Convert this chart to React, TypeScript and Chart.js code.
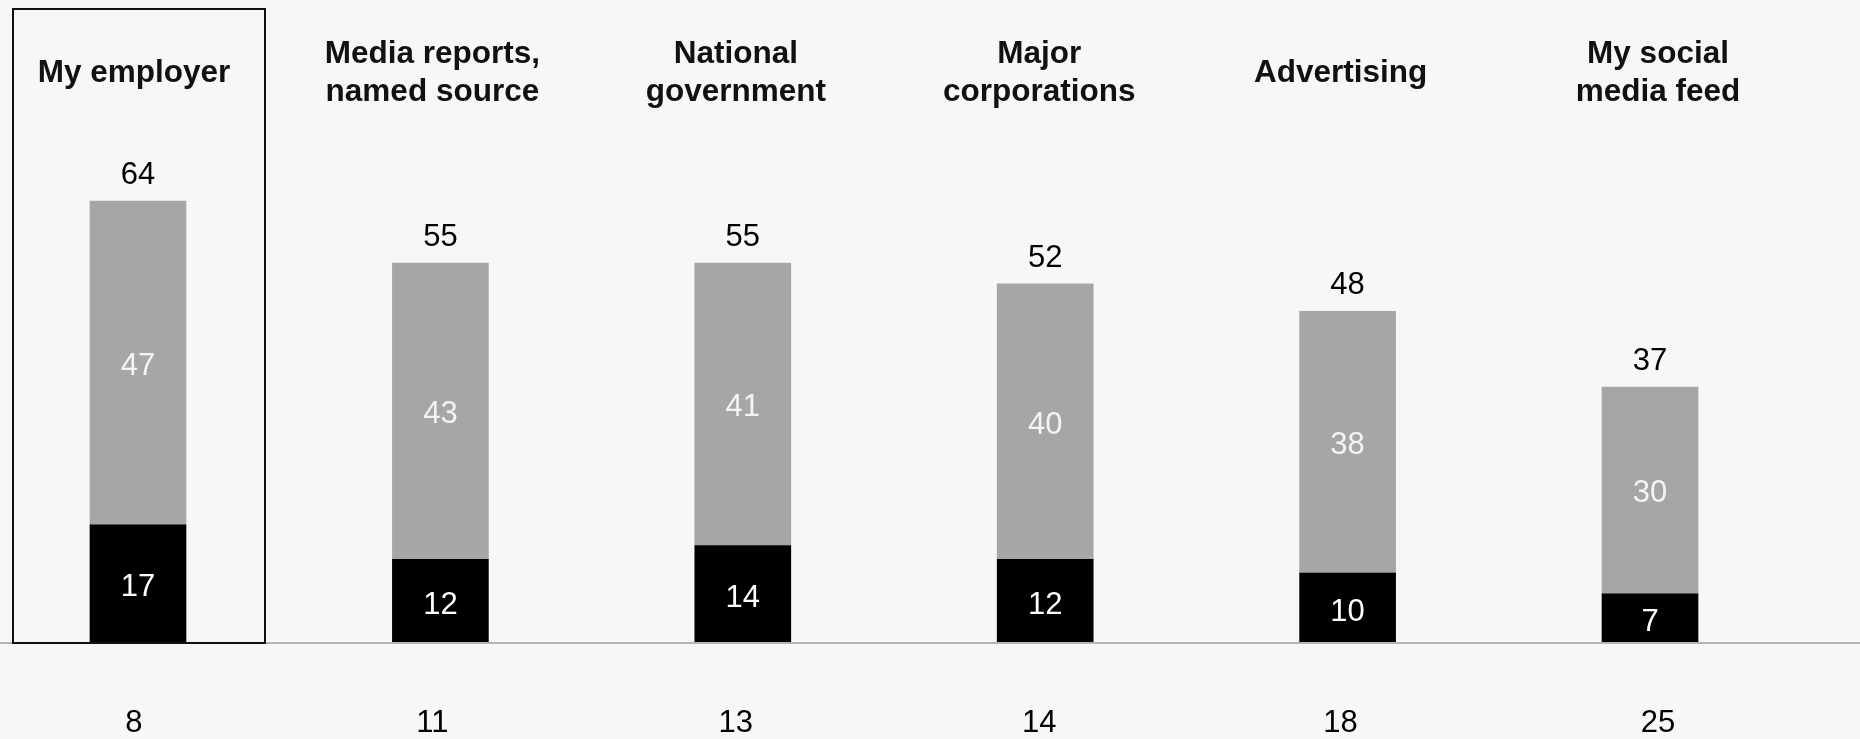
import React, { useEffect, useRef } from "react";
import { Chart, registerables } from "chart.js";

Chart.register(...registerables);

const categories: string[][] = [
  ["My employer"],
  ["Media reports,", "named source"],
  ["National", "government"],
  ["Major", "corporations"],
  ["Advertising"],
  ["My social", "media feed"],
];
const blackValues = [17, 12, 14, 12, 10, 7];
const grayValues = [47, 43, 41, 40, 38, 30];
const totals = [64, 55, 55, 52, 48, 37];
const bottomValues = [8, 11, 13, 14, 18, 25];

const W = 1860;
const H = 739;
const FONT = '"Liberation Sans", Arial, Helvetica, sans-serif';
// small horizontal nudges (px) of the title / bottom text columns vs. the bars
const textShift = [-4, -8, -7, -6, -7, 8];

export default function App() {
  const ref = useRef<HTMLCanvasElement | null>(null);

  useEffect(() => {
    const canvas = ref.current;
    if (!canvas) return;

    const overlay = {
      id: "overlay",
      afterDatasetsDraw(chart: any) {
        const ctx = chart.ctx;
        const xs = chart.scales.x;
        const area = chart.chartArea;
        ctx.save();
        // axis line
        ctx.strokeStyle = "#b4b4b4";
        ctx.lineWidth = 2;
        ctx.beginPath();
        ctx.moveTo(0, area.bottom + 1);
        ctx.lineTo(W, area.bottom + 1);
        ctx.stroke();
        // highlight box
        ctx.strokeStyle = "#111";
        ctx.lineWidth = 2;
        ctx.strokeRect(13, 9, 252, area.bottom - 8);

        const m0 = chart.getDatasetMeta(0);
        const m1 = chart.getDatasetMeta(1);
        ctx.textAlign = "center";
        ctx.textBaseline = "alphabetic";
        for (let i = 0; i < categories.length; i++) {
          const cx = xs.getPixelForValue(i);
          const tx = cx + textShift[i];
          // titles
          ctx.font = `bold 31.5px ${FONT}`;
          ctx.fillStyle = "#111";
          const lines = categories[i];
          if (lines.length === 1) {
            ctx.fillText(lines[0], tx, 82);
          } else {
            ctx.fillText(lines[0], tx, 63);
            ctx.fillText(lines[1], tx, 101);
          }
          ctx.font = `31px ${FONT}`;
          // segment labels
          const b = m0.data[i];
          const g = m1.data[i];
          ctx.fillStyle = "#ffffff";
          ctx.fillText(String(blackValues[i]), cx, (b.y + b.base) / 2 + 13);
          ctx.fillStyle = "#f4f4f4";
          ctx.fillText(String(grayValues[i]), cx, (g.y + g.base) / 2 + 12);
          // totals
          ctx.fillStyle = "#000";
          ctx.fillText(String(totals[i]), cx, g.y - 17);
          // bottom numbers
          ctx.fillText(String(bottomValues[i]), tx, 732);
        }
        ctx.restore();
      },
    };

    const chart = new Chart(canvas, {
      type: "bar",
      data: {
        datasets: [
          {
            label: "black",
            data: blackValues.map((v, i) => ({ x: i, y: v })),
            backgroundColor: "#000000",
            barThickness: 96,
          },
          {
            label: "gray",
            data: grayValues.map((v, i) => ({ x: i, y: v })),
            backgroundColor: "#a6a6a6",
            barThickness: 96,
          },
        ],
      },
      options: {
        responsive: false,
        animation: false,
        events: [],
        layout: { padding: { left: 0, right: 0, top: 0, bottom: H - 642 } },
        plugins: {
          legend: { display: false },
          tooltip: { enabled: false },
        },
        scales: {
          x: {
            type: "linear",
            stacked: true,
            display: false,
            offset: false,
            min: -0.4563,
            max: 5.6944,
          },
          y: {
            stacked: true,
            display: false,
            min: 0,
            max: 642 / 6.89,
          },
        },
      },
      plugins: [overlay],
    });
    return () => chart.destroy();
  }, []);

  return (
    <div
      style={{
        position: "fixed",
        left: 0,
        top: 0,
        width: W,
        height: H,
        background: "#f7f7f7",
      }}
    >
      <canvas ref={ref} width={W} height={H} style={{ display: "block" }} />
    </div>
  );
}
